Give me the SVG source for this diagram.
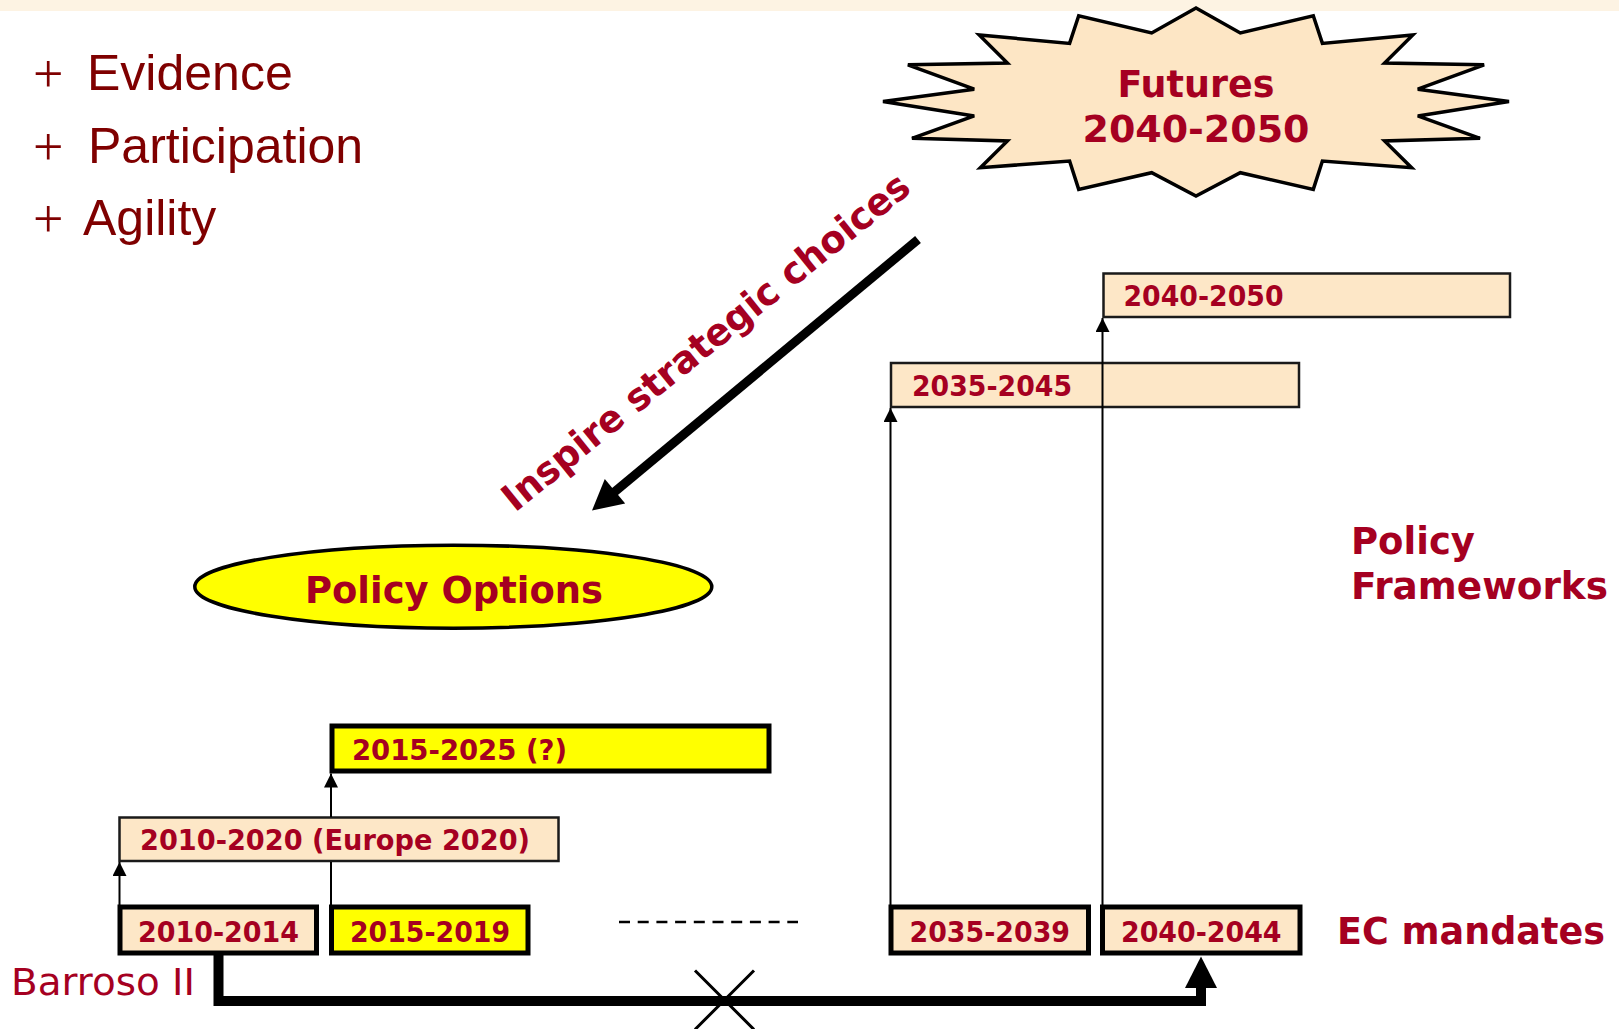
<svg xmlns="http://www.w3.org/2000/svg" width="1619" height="1029" viewBox="0 0 1619 1029">
<style>
.lab{font-family:"DejaVu Sans","Verdana",sans-serif;font-weight:bold;fill:#A50021}
.box{font-family:"DejaVu Sans","Verdana",sans-serif;font-weight:bold;fill:#A50021;font-size:28px}
.thin{fill:#FDE7C7;stroke:#1a1a1a;stroke-width:2.5}
.thickP{fill:#FDE7C7;stroke:#000;stroke-width:5}
.thickY{fill:#FFFF00;stroke:#000;stroke-width:5}
.list{font-family:"Liberation Sans",Arial,sans-serif;font-size:50px;fill:#7F0000}
.plus{font-family:"Liberation Serif","Times New Roman",serif;font-size:54px;fill:#7F0000}
.conn{stroke:#000;stroke-width:2;fill:none}
</style>
<defs>
<marker id="ah" viewBox="0 0 14 14" refX="14" refY="7" markerWidth="14" markerHeight="14" orient="auto" markerUnits="userSpaceOnUse"><path d="M0,0 L14,7 L0,14 z" fill="#000"/></marker>
</defs>
<rect x="0" y="0" width="1619" height="11" fill="#FDF3E3"/>

<g id="bullets">
<text class="plus" x="33" y="92">+</text>
<text class="list" x="87" y="90">Evidence</text>
<text class="plus" x="33" y="165">+</text>
<text class="list" x="88" y="163">Participation</text>
<text class="plus" x="33" y="237">+</text>
<text class="list" x="83" y="235">Agility</text>
</g>

<g id="futures">
<polygon points="1196,8 1151.7,33 1078.7,15.7 1069.6,43.4 979.2,35 1007.4,63.1 907.9,64.8 974.2,89.2 883,101.5 974.2,115.9 912,138.3 1007.4,140.9 980.4,167.7 1069.6,161 1078.7,189.4 1151.7,172.7 1196,196 1240.3,172.7 1313.3,189.4 1322.4,161 1411.6,167.7 1384.6,140.9 1480,138.3 1417.8,115.9 1509,101.5 1417.8,89.2 1484.1,64.8 1384.6,63.1 1412.8,35 1322.4,43.4 1313.3,15.7 1240.3,33" fill="#FDE6C5" stroke="#000" stroke-width="3.5" stroke-linejoin="miter"/>
<text class="lab" x="1196" y="97" font-size="38" text-anchor="middle" textLength="157" lengthAdjust="spacingAndGlyphs">Futures</text>
<text class="lab" x="1196" y="141.5" font-size="38" text-anchor="middle" textLength="227" lengthAdjust="spacingAndGlyphs">2040-2050</text>
</g>

<g id="policy-options">
<ellipse cx="453.3" cy="586.7" rx="258.5" ry="41.5" fill="#FFFF00" stroke="#000" stroke-width="3.5"/>
<text class="lab" x="454" y="602.7" font-size="38" text-anchor="middle" textLength="298" lengthAdjust="spacingAndGlyphs">Policy Options</text>
</g>

<g id="label-frameworks">
<text class="lab" x="1351" y="553.5" font-size="37">Policy</text>
<text class="lab" x="1351" y="598.5" font-size="37" textLength="257" lengthAdjust="spacingAndGlyphs">Frameworks</text>
</g>
<g id="label-mandates">
<text class="lab" x="1337" y="944" font-size="37" textLength="268" lengthAdjust="spacingAndGlyphs">EC mandates</text>
</g>
<g id="label-barroso">
<text x="11" y="995" font-family="DejaVu Sans, Verdana, sans-serif" font-size="37" fill="#A50021" textLength="184" lengthAdjust="spacingAndGlyphs">Barroso II</text>
</g>

<g id="pf-2040-2050">
<rect class="thin" x="1103.5" y="273.5" width="406.5" height="43.5"/>
<text class="box" x="1123.5" y="306" textLength="160" lengthAdjust="spacingAndGlyphs">2040-2050</text>
</g>
<g id="pf-2035-2045">
<rect class="thin" x="891" y="363" width="408" height="44"/>
<text class="box" x="912" y="396" textLength="160" lengthAdjust="spacingAndGlyphs">2035-2045</text>
</g>
<g id="pf-2010-2020">
<rect class="thin" x="119.5" y="817.5" width="439" height="43.5"/>
<text class="box" x="140" y="849.5" textLength="390" lengthAdjust="spacingAndGlyphs">2010-2020 (Europe 2020)</text>
</g>
<g id="pf-2015-2025">
<rect class="thickY" x="332" y="726" width="437" height="45"/>
<text class="box" x="352" y="759.5" textLength="215" lengthAdjust="spacingAndGlyphs">2015-2025 (?)</text>
</g>

<g id="m-2010-2014">
<rect class="thickP" x="120" y="907" width="196.5" height="46"/>
<text class="box" x="138" y="941.5" font-size="30.5" textLength="161" lengthAdjust="spacingAndGlyphs">2010-2014</text>
</g>
<g id="m-2015-2019">
<rect class="thickY" x="331.5" y="907" width="196.5" height="46"/>
<text class="box" x="350" y="941.5" font-size="30.5" textLength="160" lengthAdjust="spacingAndGlyphs">2015-2019</text>
</g>
<g id="m-2035-2039">
<rect class="thickP" x="891" y="907" width="197.5" height="46"/>
<text class="box" x="909.5" y="941.5" font-size="30.5" textLength="160.5" lengthAdjust="spacingAndGlyphs">2035-2039</text>
</g>
<g id="m-2040-2044">
<rect class="thickP" x="1102.5" y="907" width="197.5" height="46"/>
<text class="box" x="1121" y="941.5" font-size="30.5" textLength="160.5" lengthAdjust="spacingAndGlyphs">2040-2044</text>
</g>

<g id="connectors">
<path class="conn" d="M119.5,905 V862" marker-end="url(#ah)"/>
<path class="conn" d="M331,905 V862"/>
<path class="conn" d="M331,817 V773.5" marker-end="url(#ah)"/>
<path class="conn" d="M890.5,905 V408" marker-end="url(#ah)"/>
<path class="conn" d="M1102.5,905 V318" marker-end="url(#ah)"/>
<path d="M619,922 H798" stroke="#000" stroke-width="2.5" stroke-dasharray="11 7.7" fill="none"/>
<path d="M918,239.5 L612,494" stroke="#000" stroke-width="9" fill="none"/>
<polygon points="592,510.5 625.2,503.6 604.8,479" fill="#000"/>
<text class="lab" font-size="38" transform="translate(515,513) rotate(-39)" textLength="512" lengthAdjust="spacingAndGlyphs">Inspire strategic choices</text>
<path d="M218.5,955 V1001 H1201 V985" stroke="#000" stroke-width="10" fill="none" stroke-linejoin="miter"/>
<polygon points="1201,956.5 1185,988 1217,988" fill="#000"/>
<path d="M695,970.5 L754,1029.5 M754,970.5 L695,1029.5" stroke="#000" stroke-width="3" fill="none"/>
</g>
</svg>
